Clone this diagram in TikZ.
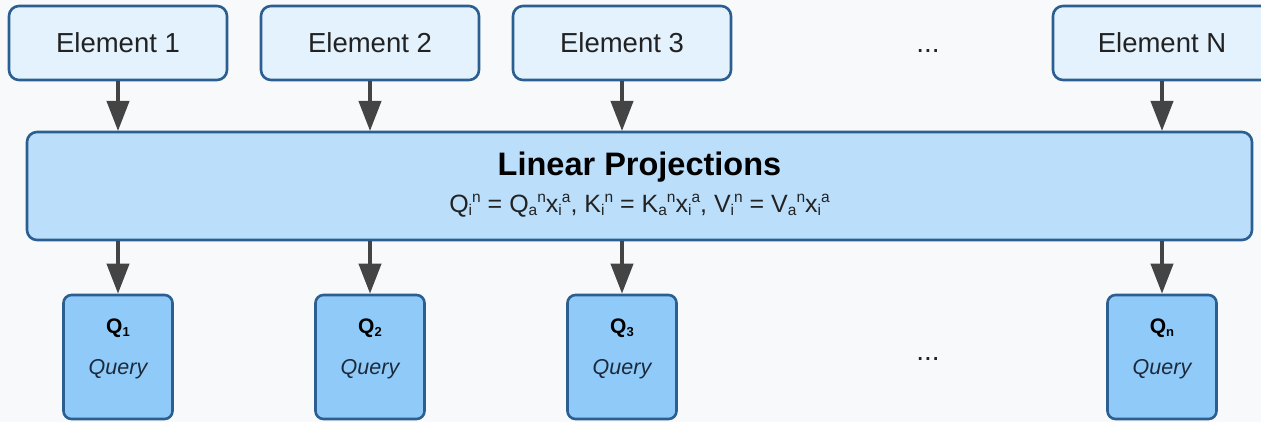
\documentclass[tikz,border=0pt]{standalone}
\usepackage{fontspec}
\setmainfont{Liberation Sans}
\usetikzlibrary{arrows.meta}
\definecolor{bgc}{HTML}{F8F9FA}
\definecolor{elfill}{HTML}{E3F2FD}
\definecolor{projfill}{HTML}{BBDEFB}
\definecolor{qfill}{HTML}{90CAF9}
\definecolor{bordc}{HTML}{2B5E91}
\definecolor{arrc}{HTML}{444444}
\definecolor{txtc}{HTML}{222222}
\definecolor{qtxt}{HTML}{1B2A3A}
\newcommand{\sbp}[2]{\raisebox{-0.12em}{\fontsize{15.5}{17}\selectfont #1}\raisebox{0.40em}{\fontsize{15.5}{17}\selectfont #2}}
\tikzset{
  elbox/.style={draw=bordc, line width=2.6pt, fill=elfill, rounded corners=10pt,
    minimum width=218pt, minimum height=74pt, inner sep=0pt,
    font=\fontsize{27.5}{32}\selectfont, text=txtc},
  projbox/.style={draw=bordc, line width=2.6pt, fill=projfill, rounded corners=10pt,
    minimum width=1225pt, minimum height=108pt, inner sep=0pt},
  qbox/.style={draw=bordc, line width=2.6pt, fill=qfill, rounded corners=8pt,
    minimum width=109pt, minimum height=124pt, inner sep=0pt},
  arr/.style={draw=arrc, line width=4pt, -{Triangle[length=30pt,width=22pt]}},
  dotsty/.style={font=\fontsize{28}{32}\selectfont, text=txtc},
}
\begin{document}
\begin{tikzpicture}[x=1pt,y=-1pt]
\useasboundingbox (0,0) rectangle (1261,422);
\clip (0,0) rectangle (1261,422);
\fill[bgc] (0,0) rectangle (1261,422);

\node[elbox] (e1) at (118,43) {Element 1};
\node[elbox] (e2) at (370,43) {Element 2};
\node[elbox] (e3) at (622,43) {Element 3};
\node[elbox] (eN) at (1162,43) {Element N};
\node[dotsty, anchor=base] (d1) at (928,53) {...};

\node[projbox] (proj) at (639.5,186) {};
\node[font=\bfseries\fontsize{32.5}{38}\selectfont, text=black] (title) at (639.5,167) {Linear Projections};
\node[font=\fontsize{25}{30}\selectfont, text=txtc] (form) at (639.5,206)
  {Q\sbp{i}{n} = Q\sbp{a}{n}x\sbp{i}{a}, K\sbp{i}{n} = K\sbp{a}{n}x\sbp{i}{a}, V\sbp{i}{n} = V\sbp{a}{n}x\sbp{i}{a}};

\foreach \n/\x/\s in {1/118/1, 2/370/2, 3/622/3, n/1162/n} {
  \node[qbox] (q\n) at (\x,357) {};
  \node[font=\bfseries\fontsize{21}{24}\selectfont, text=black] (ql\n) at (\x,328) {Q\raisebox{-0.15em}{\fontsize{13}{15}\selectfont\s}};
  \node[font=\itshape\fontsize{21.5}{26}\selectfont, text=qtxt] (qq\n) at (\x,369) {Query};
}
\node[dotsty, anchor=base] (d2) at (928,360) {...};

\foreach \e/\x in {e1/118, e2/370, e3/622, eN/1162} {
  \draw[arr] (\e.south) -- (\x,131);
}
\draw[arr] (proj.south -| q1.north) -- (q1.north);
\draw[arr] (proj.south -| q2.north) -- (q2.north);
\draw[arr] (proj.south -| q3.north) -- (q3.north);
\draw[arr] (proj.south -| qn.north) -- (qn.north);
\end{tikzpicture}
\end{document}
